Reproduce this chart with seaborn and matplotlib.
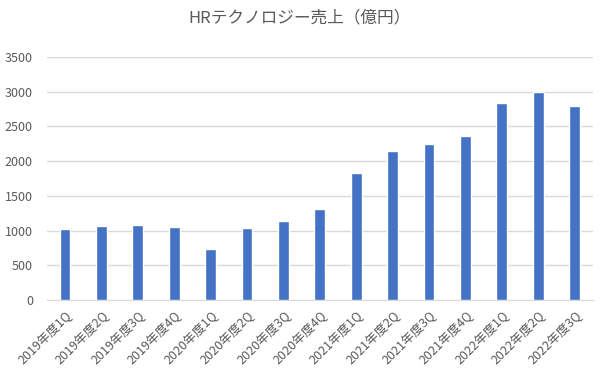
import seaborn as sns
import pandas as pd
from matplotlib import pyplot as plt

quarters = ['2019年度1Q', '2019年度2Q', '2019年度3Q', '2019年度4Q',
            '2020年度1Q', '2020年度2Q', '2020年度3Q', '2020年度4Q',
            '2021年度1Q', '2021年度2Q', '2021年度3Q', '2021年度4Q',
            '2022年度1Q', '2022年度2Q', '2022年度3Q']
sales = [1020, 1060, 1085, 1050, 740, 1030, 1140, 1310,
         1835, 2140, 2250, 2365, 2840, 3000, 2800]
y_ticks = [0, 500, 1000, 1500, 2000, 2500, 3000, 3500]

sns.set_style('white')
plt.rcParams['font.family'] = ['Noto Sans CJK JP', 'DejaVu Sans']

df = pd.DataFrame({'quarter': quarters, 'sales': sales})

fig = plt.figure(figsize=(6, 3.83), dpi=100)
ax = fig.add_axes([0.078, 0.217, 0.91, 0.634])
sns.barplot(data=df, x='quarter', y='sales', color='#4472C4',
            saturation=1, width=0.3, ax=ax, zorder=3)

ax.set_ylim(0, 3500)
ax.set_yticks(y_ticks)
ax.yaxis.grid(True, color='#D9D9D9', linewidth=1, zorder=0)
ax.set_axisbelow(True)
for side in ['top', 'right', 'left']:
    ax.spines[side].set_visible(False)
ax.spines['bottom'].set_color('#D9D9D9')
ax.tick_params(axis='both', length=0, colors='#595959', labelsize=9)
ax.tick_params(axis='y', pad=10)
ax.tick_params(axis='x', pad=6)
plt.setp(ax.get_xticklabels(), rotation=45, ha='right', rotation_mode='anchor')
ax.set_xlabel('')
ax.set_ylabel('')
fig.suptitle('HRテクノロジー売上（億円）', y=0.975, fontsize=12, color='#595959')

plt.savefig('out.png', dpi=100)
